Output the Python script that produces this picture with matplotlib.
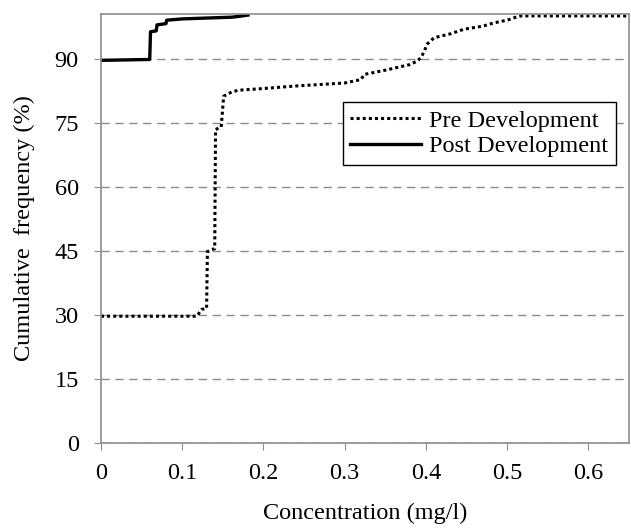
import matplotlib
matplotlib.use("Agg")
import matplotlib.pyplot as plt

# cumulative frequency curves
pre_x = [0, 0.118, 0.124, 0.130, 0.131, 0.136, 0.140, 0.141, 0.148, 0.151, 0.161, 0.169,
         0.20, 0.24, 0.30, 0.32, 0.324, 0.35, 0.38, 0.39, 0.395, 0.402, 0.41, 0.43,
         0.447, 0.47, 0.484, 0.50, 0.509, 0.517, 0.65]
pre_y = [29.7, 29.7, 31.3, 31.5, 44.8, 45.3, 45.5, 73.4, 74.0, 81.2, 82.2, 82.6,
         83.0, 83.6, 84.3, 85.1, 86.3, 87.3, 88.6, 89.5, 90.6, 93.5, 94.9, 95.8,
         96.9, 97.6, 98.4, 99.0, 99.6, 100, 100]

post_x = [0, 0.060, 0.061, 0.068, 0.069, 0.080, 0.081, 0.10, 0.13, 0.161, 0.17, 0.181]
post_y = [89.6, 89.8, 96.3, 96.5, 97.9, 98.2, 99.0, 99.3, 99.5, 99.7, 99.9, 100.2]

x_ticks = [0, 0.1, 0.2, 0.3, 0.4, 0.5, 0.6]
x_tick_labels = ["0", "0.1", "0.2", "0.3", "0.4", "0.5", "0.6"]
y_ticks = [0, 15, 30, 45, 60, 75, 90]

plt.rcParams["font.family"] = ["Liberation Serif", "DejaVu Serif"]

fig = plt.figure(figsize=(6.31, 5.30), dpi=100)
ax = fig.add_axes([0.160, 0.164, 0.837, 0.810])

ax.plot(pre_x, pre_y, color="black", lw=2.2, linestyle=(0, (1, 1)), label="Pre Development")
ax.plot(post_x, post_y, color="black", lw=2.4, label="Post Development")

ax.set_xlim(0, 0.65)
ax.set_ylim(0, 100.5)
ax.set_xticks(x_ticks)
ax.set_xticklabels(x_tick_labels)
ax.set_yticks(y_ticks)
ax.yaxis.grid(True, linestyle=(0, (6, 4)), color="#8c8c8c", lw=1)
ax.set_axisbelow(True)

for s in ax.spines.values():
    s.set_color("#8c8c8c")
    s.set_linewidth(1.2)
ax.tick_params(axis="both", direction="out", length=5, color="#8c8c8c", labelsize=17.5)
ax.tick_params(axis="y", pad=11)
ax.tick_params(axis="x", pad=9)

ax.set_xlabel("Concentration (mg/l)", fontsize=17.5, labelpad=14)
ax.set_ylabel("Cumulative  frequency (%)", fontsize=17.5, labelpad=14)

leg = ax.legend(loc="upper right", bbox_to_anchor=(0.976, 0.807),
                bbox_transform=fig.transFigure, fontsize=17.5, fancybox=False,
                framealpha=1, edgecolor="black", handlelength=2.9,
                borderpad=0.3, labelspacing=0.15, handletextpad=0.35, borderaxespad=0)
leg.get_frame().set_linewidth(1.0)

fig.savefig("out.png", dpi=100)
